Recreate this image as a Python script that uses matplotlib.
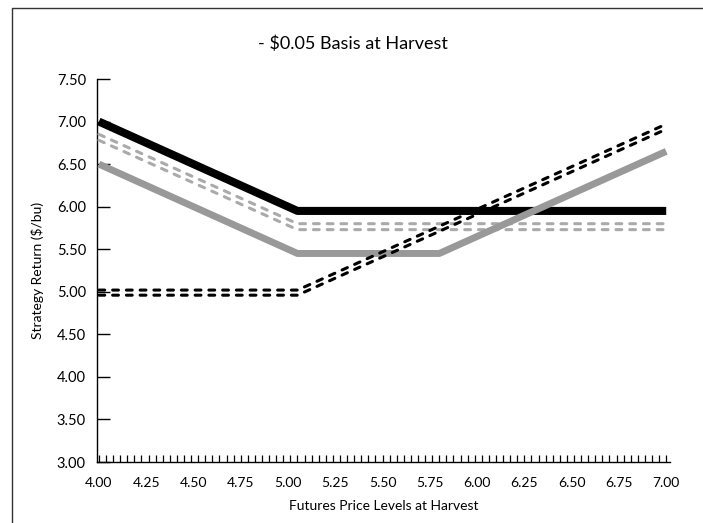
import matplotlib.pyplot as plt
import numpy as np
from matplotlib.lines import Line2D
from matplotlib.ticker import FixedLocator, MultipleLocator

plt.rcParams['font.family'] = ['Lato', 'DejaVu Sans']

# futures price levels at the kink points
price = [4.00, 5.05, 5.80, 7.00]

# strategy returns ($/bu) at those prices
black_solid = [7.00, 5.95, 5.95, 5.95]
gray_solid = [6.50, 5.45, 5.45, 6.65]
gray_dash_hi = [6.85, 5.80, 5.80, 5.80]
gray_dash_lo = [6.78, 5.73, 5.73, 5.73]
black_dash_hi = [5.02, 5.02, 5.77, 6.97]
black_dash_lo = [4.96, 4.96, 5.71, 6.91]

fig = plt.figure(figsize=(7.03, 5.23), dpi=100)
ax = fig.add_axes([97 / 703, 1 - 462 / 523, (670 - 97) / 703, (462 - 79) / 523])

dash = dict(lw=2.2, dashes=(1.9, 2.6), dash_capstyle='round')
ax.plot(price, black_solid, color='black', lw=5.8, solid_capstyle='butt', zorder=2)
ax.plot(price, gray_dash_hi, color='#aaaaaa', zorder=3, **dash)
ax.plot(price, gray_dash_lo, color='#aaaaaa', zorder=3, **dash)
ax.plot(price, gray_solid, color='#999999', lw=5.0, solid_capstyle='butt', zorder=4)
ax.plot(price, black_dash_hi, color='black', zorder=5, **dash)
ax.plot(price, black_dash_lo, color='black', zorder=5, **dash)

ax.set_xlim(3.99, 7.02)
ax.set_ylim(3.0, 7.5)
ax.spines['top'].set_visible(False)
ax.spines['right'].set_visible(False)
for s in ['left', 'bottom']:
    ax.spines[s].set_linewidth(1.0)

ax.xaxis.remove_overlapping_locs = False
ax.xaxis.set_major_locator(MultipleLocator(0.25))
ax.xaxis.set_minor_locator(FixedLocator(np.linspace(4.0, 7.0, 81)))
ax.xaxis.set_major_formatter(lambda v, p: f'{v:.2f}')
ax.tick_params(axis='x', which='major', length=0, pad=11, labelsize=10)
ax.tick_params(axis='x', which='minor', direction='in', length=5, width=0.9)

ax.yaxis.set_major_locator(MultipleLocator(0.5))
ax.yaxis.set_major_formatter(lambda v, p: f'{v:.2f}')
ax.tick_params(axis='y', direction='in', length=9.5, width=1.0, pad=8, labelsize=10.5)

ax.set_xlabel('Futures Price Levels at Harvest', fontsize=10, labelpad=8)
ax.set_ylabel('Strategy Return ($/bu)', fontsize=10, labelpad=9)
fig.text(353 / 703, 1 - 44 / 523, '- $0.05 Basis at Harvest', fontsize=13,
         ha='center', va='center')

# outer frame (left and top edges)
fig.add_artist(Line2D([12 / 703, 12 / 703, 1.0], [0.0, 1 - 8 / 523, 1 - 8 / 523],
                      transform=fig.transFigure, color='#333333', lw=1.0))

fig.savefig('out.png', dpi=100)
